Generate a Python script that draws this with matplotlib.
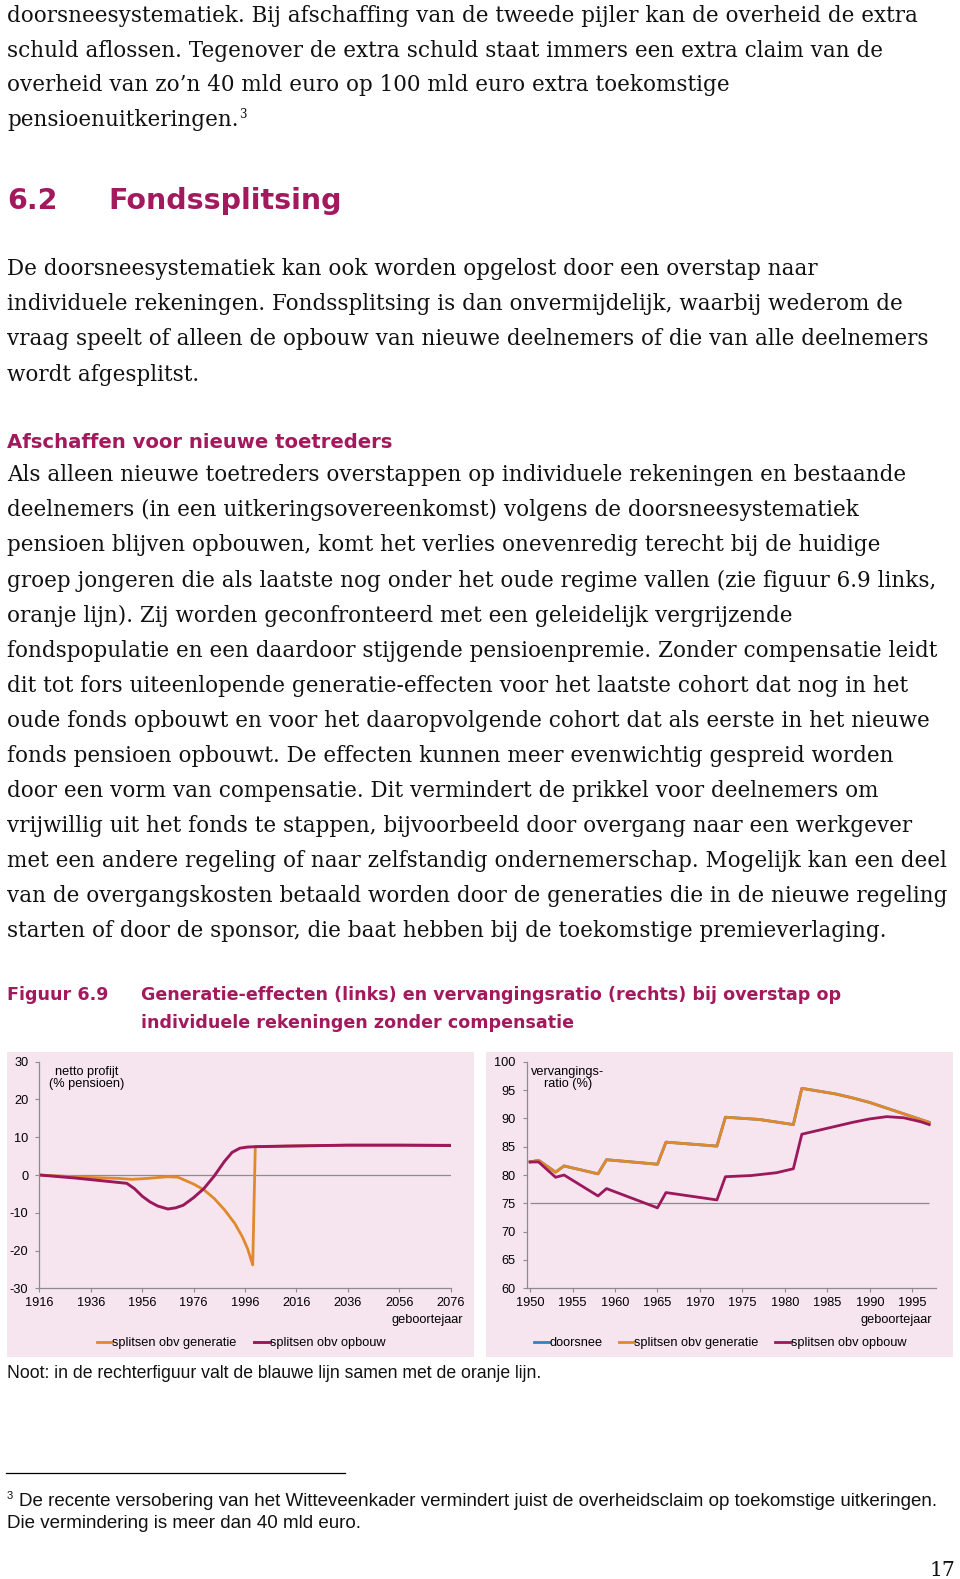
import numpy as np
import matplotlib.pyplot as plt
from matplotlib.patches import Rectangle
from matplotlib.lines import Line2D

plt.rcParams['axes.unicode_minus'] = False

W, H = 960, 1579

# ---- page text ----
para1 = ["doorsneesystematiek. Bij afschaffing van de tweede pijler kan de overheid de extra",
         "schuld aflossen. Tegenover de extra schuld staat immers een extra claim van de",
         "overheid van zo\u2019n 40 mld euro op 100 mld euro extra toekomstige",
         "pensioenuitkeringen."]
para1_y = [16.0, 50.5, 85.5, 119.8]

para2 = ["De doorsneesystematiek kan ook worden opgelost door een overstap naar",
         "individuele rekeningen. Fondssplitsing is dan onvermijdelijk, waarbij wederom de",
         "vraag speelt of alleen de opbouw van nieuwe deelnemers of die van alle deelnemers",
         "wordt afgesplitst."]
para2_y = [269.0, 304.0, 339.4, 374.7]

para3 = ["Als alleen nieuwe toetreders overstappen op individuele rekeningen en bestaande",
         "deelnemers (in een uitkeringsovereenkomst) volgens de doorsneesystematiek",
         "pensioen blijven opbouwen, komt het verlies onevenredig terecht bij de huidige",
         "groep jongeren die als laatste nog onder het oude regime vallen (zie figuur 6.9 links,",
         "oranje lijn). Zij worden geconfronteerd met een geleidelijk vergrijzende",
         "fondspopulatie en een daardoor stijgende pensioenpremie. Zonder compensatie leidt",
         "dit tot fors uiteenlopende generatie-effecten voor het laatste cohort dat nog in het",
         "oude fonds opbouwt en voor het daaropvolgende cohort dat als eerste in het nieuwe",
         "fonds pensioen opbouwt. De effecten kunnen meer evenwichtig gespreid worden",
         "door een vorm van compensatie. Dit vermindert de prikkel voor deelnemers om",
         "vrijwillig uit het fonds te stappen, bijvoorbeeld door overgang naar een werkgever",
         "met een andere regeling of naar zelfstandig ondernemerschap. Mogelijk kan een deel",
         "van de overgangskosten betaald worden door de generaties die in de nieuwe regeling",
         "starten of door de sponsor, die baat hebben bij de toekomstige premieverlaging."]
para3_y = [475.4 + 35.02 * i for i in range(len(para3))]

caption_lines = ["Generatie-effecten (links) en vervangingsratio (rechts) bij overstap op",
                 "individuele rekeningen zonder compensatie"]
note = "Noot: in de rechterfiguur valt de blauwe lijn samen met de oranje lijn."
footnote = ["De recente versobering van het Witteveenkader vermindert juist de overheidsclaim op toekomstige uitkeringen.",
            "Die vermindering is meer dan 40 mld euro."]

# ---- left chart: netto profijt (% pensioen) ----
jaar_gen = [1916, 1934, 1947, 1952, 1958, 1966, 1970, 1976, 1980, 1984, 1988, 1992, 1995, 1997, 1999,
            2000, 2016, 2036, 2056, 2076]
netto_gen = [0, -0.6, -0.9, -1.15, -0.9, -0.45, -0.6, -2.4, -3.9, -6.2, -9.2, -12.8, -16.4, -19.5, -23.8,
             7.5, 7.7, 7.9, 7.9, 7.9]
jaar_opb = [1916, 1930, 1940, 1950, 1953, 1956, 1959, 1962, 1966, 1969, 1972, 1976, 1980, 1984, 1988,
            1991, 1994, 1997, 2000, 2016, 2036, 2056, 2076]
netto_opb = [0, -0.8, -1.5, -2.2, -3.6, -5.6, -7.1, -8.2, -9.0, -8.7, -8.0, -6.0, -3.6, -0.3, 3.6,
             6.0, 7.1, 7.4, 7.5, 7.7, 7.9, 7.9, 7.8]

# ---- right chart: vervangingsratio (%) ----
jaar_r_gen = [1950, 1951, 1953, 1954, 1958, 1959, 1965, 1966, 1972, 1973, 1977, 1981, 1982, 1984, 1986,
              1988, 1990, 1992, 1994, 1996, 1997]
ratio_gen = [82.3, 82.6, 80.5, 81.6, 80.2, 82.7, 81.9, 85.8, 85.1, 90.2, 89.8, 88.9, 95.3, 94.8, 94.3,
             93.6, 92.8, 91.8, 90.8, 89.8, 89.3]
ratio_doorsnee = list(ratio_gen)  # valt samen met de oranje lijn
jaar_r_opb = [1950, 1951, 1953, 1954, 1958, 1959, 1965, 1966, 1972, 1973, 1976, 1979, 1981, 1982, 1984,
              1986, 1988, 1990, 1992, 1994, 1996, 1997]
ratio_opb = [82.3, 82.3, 79.6, 80.0, 76.3, 77.6, 74.2, 76.9, 75.6, 79.7, 79.9, 80.4, 81.1, 87.2, 87.9,
             88.6, 89.3, 89.9, 90.3, 90.1, 89.4, 88.9]

MAGENTA = '#A3195E'
ORANGE = '#E0892B'
PURPLE = '#9A185B'
BLUE = '#3380C2'
GREY = '#8C8C8C'
PINK = '#F6E4EE'
TXT = '#111111'


def fx(x):
    return x / W


def fy(y):
    return 1 - y / H


fig = plt.figure(figsize=(9.6, 15.79), dpi=100)
fig.patch.set_facecolor('white')
renderer = fig.canvas.get_renderer()


def fit(s, width, **kw):
    t = fig.text(0, 0, s, fontsize=10, **kw)
    w = t.get_window_extent(renderer).width
    t.remove()
    return 10 * width / w


def put(x, y, s, **kw):
    kw.setdefault('va', 'center')
    kw.setdefault('color', TXT)
    return fig.text(fx(x), fy(y), s, **kw)


# body text
serif = 'DejaVu Serif'
body = fit(para3[12], 943, family=serif)
for lines, ys in [(para1, para1_y), (para2, para2_y), (para3, para3_y)]:
    for s, y in zip(lines, ys):
        put(7, y, s, family=serif, fontsize=body)
w3 = fig.text(0, 0, para1[3], family=serif, fontsize=body).get_window_extent(renderer).width
fig.texts[-1].remove()
put(7 + w3 + 1, para1_y[3] - 5, '3', family=serif, fontsize=body * 0.55)

# headings
hsize = fit('Fondssplitsing', 232, family='DejaVu Sans', weight='bold')
put(7, 201, '6.2', family='DejaVu Sans', weight='bold', fontsize=hsize, color=MAGENTA)
put(108, 201, 'Fondssplitsing', family='DejaVu Sans', weight='bold', fontsize=hsize, color=MAGENTA)
ssize = fit('Afschaffen voor nieuwe toetreders', 386, family='DejaVu Sans', weight='bold')
put(7, 443, 'Afschaffen voor nieuwe toetreders', family='DejaVu Sans', weight='bold',
    fontsize=ssize, color=MAGENTA)

csize = fit(caption_lines[0], 701, family='DejaVu Sans', weight='bold')
put(7, 995, 'Figuur 6.9', family='DejaVu Sans', weight='bold', fontsize=csize, color=MAGENTA)
put(141, 995, caption_lines[0], family='DejaVu Sans', weight='bold', fontsize=csize, color=MAGENTA)
put(141, 1023, caption_lines[1], family='DejaVu Sans', weight='bold', fontsize=csize, color=MAGENTA)

# note + footnote
nsize = fit(note, 536, family='Liberation Sans')
put(7, 1373, note, family='Liberation Sans', fontsize=nsize)
fsize = fit(footnote[0], 924, family='Liberation Sans')
put(19, 1502, footnote[0], family='Liberation Sans', fontsize=fsize)
put(7, 1524, footnote[1], family='Liberation Sans', fontsize=fsize)
put(7, 1496, '3', family='Liberation Sans', fontsize=fsize * 0.6)
fig.add_artist(Line2D([fx(6), fx(345)], [fy(1473), fy(1473)], color='black', lw=0.9))
put(955, 1571, '17', family=serif, fontsize=body * 0.95, ha='right')

# chart panels
for x0, x1 in [(7, 474), (486, 953)]:
    fig.add_artist(Rectangle((fx(x0), fy(1357)), (x1 - x0) / W, (1357 - 1052) / H,
                             transform=fig.transFigure, facecolor=PINK, edgecolor='none', zorder=0))

FS = 9.2
CF = 'Liberation Sans'


def style(ax):
    ax.set_facecolor('none')
    for side in ['top', 'right']:
        ax.spines[side].set_visible(False)
    for side in ['left', 'bottom']:
        ax.spines[side].set_color(GREY)
        ax.spines[side].set_linewidth(0.9)
    ax.tick_params(axis='both', direction='out', length=3, width=0.8, color=GREY,
                   labelsize=FS, labelcolor='black')
    ax.tick_params(axis='y', pad=5)
    ax.tick_params(axis='x', pad=3.5)
    for lab in ax.get_xticklabels() + ax.get_yticklabels():
        lab.set_family(CF)


# left chart
axL = fig.add_axes([fx(39.3), fy(1288.3), (450.7 - 39.3) / W, (1288.3 - 1061.7) / H])
axL.axhline(0, color=GREY, lw=0.9)
axL.plot(jaar_gen, netto_gen, color=ORANGE, lw=2.0, label='splitsen obv generatie')
axL.plot(jaar_opb, netto_opb, color=PURPLE, lw=2.1, label='splitsen obv opbouw')
axL.set_xlim(1916, 2076)
axL.set_ylim(-30, 30)
axL.set_xticks(np.arange(1916, 2077, 20))
axL.set_yticks(np.arange(-30, 31, 10))
style(axL)
put(87, 1078, 'netto profijt\n(% pensioen)', family=CF, fontsize=FS, ha='center', linespacing=1.1,
    color='black')
put(463, 1320, 'geboortejaar', family=CF, fontsize=FS, ha='right', color='black')
axL.legend(loc='center', bbox_to_anchor=(fx(241), fy(1343)), bbox_transform=fig.transFigure,
           ncol=2, frameon=False, handlelength=1.2, handletextpad=0.0, columnspacing=1.4,
           prop={'family': CF, 'size': FS})

# right chart
axR = fig.add_axes([fx(526.7), fy(1288.3), (936 - 526.7) / W, (1288.3 - 1061.7) / H])
axR.hlines(75, jaar_r_gen[0], jaar_r_gen[-1], color=GREY, lw=0.9)
axR.plot(jaar_r_gen, ratio_doorsnee, color=BLUE, lw=2.0, label='doorsnee')
axR.plot(jaar_r_gen, ratio_gen, color=ORANGE, lw=2.0, label='splitsen obv generatie')
axR.plot(jaar_r_opb, ratio_opb, color=PURPLE, lw=2.0, label='splitsen obv opbouw')
axR.set_xlim(1949.6, 1997.8)
axR.set_ylim(60, 100)
axR.set_xticks(np.arange(1950, 1996, 5))
axR.set_yticks(np.arange(60, 101, 5))
style(axR)
put(568, 1078, 'vervangings-\nratio (%)', family=CF, fontsize=FS, ha='center', linespacing=1.1,
    color='black')
put(932, 1320, 'geboortejaar', family=CF, fontsize=FS, ha='right', color='black')
axR.legend(loc='center', bbox_to_anchor=(fx(720), fy(1343)), bbox_transform=fig.transFigure,
           ncol=3, frameon=False, handlelength=1.2, handletextpad=0.0, columnspacing=1.3,
           prop={'family': CF, 'size': FS})

fig.savefig('out.png', dpi=100)
